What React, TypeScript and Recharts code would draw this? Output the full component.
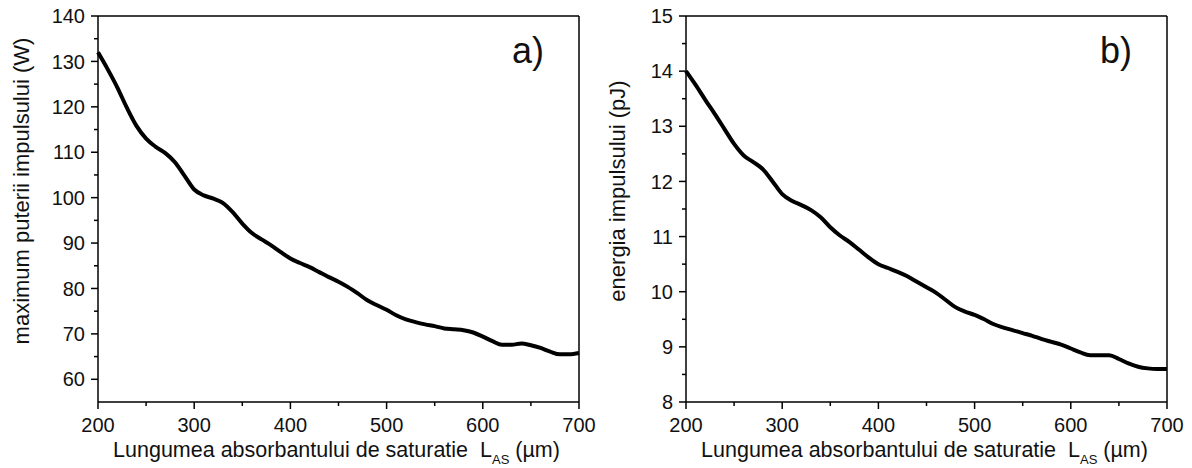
import { LineChart, Line, XAxis, YAxis, ReferenceLine } from "recharts"

const FONT = '"Liberation Sans", Arial, sans-serif'

// absorber length L_AS (µm)
const lengths = [
	200, 210, 220, 230, 240, 250, 260, 270, 280, 290,
	300, 310, 320, 330, 340, 350, 360, 370, 380, 390,
	400, 410, 420, 430, 440, 450, 460, 470, 480, 490,
	500, 510, 520, 530, 540, 550, 560, 570, 580, 590,
	600, 610, 620, 630, 640, 650, 660, 670, 680, 690, 700,
]

// a) peak power (W)
const peakPower = [
	132, 128.3, 124.3, 119.8, 115.8, 113, 111.2, 109.8, 107.8, 104.8,
	101.8, 100.5, 99.8, 98.8, 96.8, 94.3, 92.2, 90.8, 89.5, 88,
	86.6, 85.6, 84.7, 83.6, 82.5, 81.5, 80.3, 78.9, 77.4, 76.3,
	75.3, 74.1, 73.2, 72.6, 72.1, 71.7, 71.2, 71, 70.8, 70.3,
	69.4, 68.4, 67.6, 67.6, 67.9, 67.5, 66.9, 66.1, 65.5, 65.5, 65.8,
]

// b) pulse energy (pJ)
const pulseEnergy = [
	14.0, 13.75, 13.48, 13.22, 12.95, 12.68, 12.47, 12.35, 12.22, 12.0,
	11.77, 11.65, 11.57, 11.48, 11.35, 11.17, 11.02, 10.9, 10.76, 10.62,
	10.5, 10.43, 10.36, 10.28, 10.18, 10.08, 9.98, 9.85, 9.72, 9.64,
	9.58, 9.5, 9.41, 9.35, 9.3, 9.25, 9.2, 9.14, 9.09, 9.04,
	8.97, 8.9, 8.85, 8.85, 8.85, 8.78, 8.7, 8.64, 8.61, 8.6, 8.6,
]

const xTicks = [200, 250, 300, 350, 400, 450, 500, 550, 600, 650, 700]
const yTicksA = [60, 65, 70, 75, 80, 85, 90, 95, 100, 105, 110, 115, 120, 125, 130, 135, 140]
const yTicksB = [8, 8.5, 9, 9.5, 10, 10.5, 11, 11.5, 12, 12.5, 13, 13.5, 14, 14.5, 15]

const dataA = lengths.map((x, i) => ({ x, y: peakPower[i] }))
const dataB = lengths.map((x, i) => ({ x, y: pulseEnergy[i] }))

const XTick = (props: any) => {
	const { x, y, payload } = props
	const major = payload.value % 100 === 0
	return (
		<g>
			<line x1={x} y1={y} x2={x} y2={y + (major ? 7 : 4)} stroke="#000" strokeWidth={1.5} />
			{major && <text x={x} y={y + 30} textAnchor="middle" fontSize={20} fontFamily={FONT} fill="#111">{payload.value}</text>}
		</g>
	)
}

const makeYTick = (step: number) => (props: any) => {
	const { x, y, payload } = props
	const major = Math.abs(payload.value / step - Math.round(payload.value / step)) < 1e-6
	return (
		<g>
			<line x1={x - (major ? 7 : 4)} y1={y} x2={x} y2={y} stroke="#000" strokeWidth={1.5} />
			{major && <text x={x - 13} y={y} dy="0.36em" textAnchor="end" fontSize={20} fontFamily={FONT} fill="#111">{payload.value}</text>}
		</g>
	)
}

const XTitle = (props: any) => {
	const vb = props.viewBox
	return (
		<text x={vb.x + vb.width / 2 - 2} y={vb.y + 55} textAnchor="middle" fontSize={21.5} fontFamily={FONT} fill="#111" xmlSpace="preserve" style={{ whiteSpace: "pre" }}>
			<tspan>Lungumea absorbantului de saturatie  L</tspan>
			<tspan fontSize={13} dy={7}>AS</tspan>
			<tspan dy={-7}> (µm)</tspan>
		</text>
	)
}

const yTitle = (text: string) => (props: any) => {
	const vb = props.viewBox
	const cx = vb.x + 29
	const cy = 191
	return (
		<text x={cx} y={cy} transform={`rotate(-90, ${cx}, ${cy})`} textAnchor="middle" fontSize={22} fontFamily={FONT} fill="#111">
			{text}
		</text>
	)
}

const panelTag = (tag: string) => (props: any) => {
	const vb = props.viewBox
	return (
		<text x={vb.x + 414} y={vb.y + 47} fontSize={36} fontFamily={FONT} fill="#111">{tag}</text>
	)
}

const axisLine = { stroke: "#000", strokeWidth: 1.5 }

function Panel({ data, yDomain, yTicks, yStep, yLabel, tag, yAxisWidth, right }: any) {
	return (
		<LineChart width={596} height={468} data={data} margin={{ top: 16, right, bottom: 0, left: 0 }}>
			<XAxis dataKey="x" type="number" domain={[200, 700]} ticks={xTicks} interval={0} height={66}
				tickSize={0} tickMargin={0} tickLine={false} axisLine={axisLine} tick={<XTick />} label={{ content: XTitle }} />
			<YAxis type="number" domain={yDomain} ticks={yTicks} interval={0} width={yAxisWidth}
				tickSize={0} tickMargin={0} tickLine={false} axisLine={axisLine} tick={makeYTick(yStep)} label={{ content: yTitle(yLabel) }} />
			<ReferenceLine y={yDomain[1]} stroke="#000" strokeWidth={1.5} label={{ content: panelTag(tag) }} />
			<ReferenceLine x={700} stroke="#000" strokeWidth={1.5} />
			<Line type="monotone" dataKey="y" stroke="#000" strokeWidth={4} dot={false} activeDot={false} isAnimationActive={false} />
		</LineChart>
	)
}

export default function App() {
	return (
		<div style={{ position: "absolute", left: 0, top: 0, width: 1192, height: 468, background: "#fff", display: "flex", fontFamily: FONT }}>
			<Panel data={dataA} yDomain={[55, 140]} yTicks={yTicksA} yStep={10} yLabel="maximum puterii impulsului (W)" tag="a)" yAxisWidth={98} right={17} />
			<Panel data={dataB} yDomain={[8, 15]} yTicks={yTicksB} yStep={1} yLabel="energia impulsului (pJ)" tag="b)" yAxisWidth={90} right={25} />
		</div>
	)
}
